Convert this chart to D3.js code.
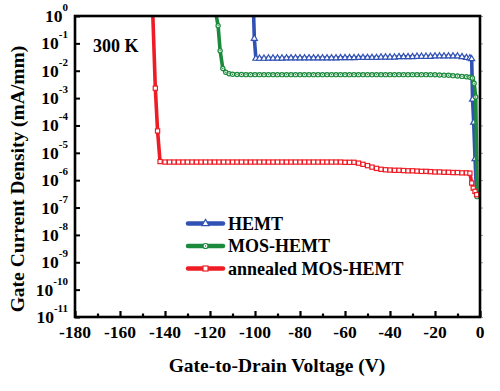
<!DOCTYPE html>
<html><head><meta charset="utf-8">
<script src="https://cdn.jsdelivr.net/npm/d3@7"></script>
<style>html,body{margin:0;padding:0;background:#fff;}svg{display:block;}
svg text{font-family:"Liberation Serif","Times New Roman",serif;font-weight:bold;}</style>
</head><body>
<script>
// ---- data ----
const xTicks = [-180,-160,-140,-120,-100,-80,-60,-40,-20,0];
const yTickExps = [0,-1,-2,-3,-4,-5,-6,-7,-8,-9,-10,-11];
const seriesNames = ["HEMT","MOS-HEMT","annealed MOS-HEMT"];

const hemtV = [-100.6,-100.3,-99.6,
 -98,-96,-94,-92,-90,-88,-86,-84,-82,-80,-78,-76,-74,-72,-70,-68,-66,-64,-62,-60,-58,-56,-54,-52,-50,-48,-46,-44,-42,-40,-38,-36,-34,-32,-30,-28,-26,-24,-22,-20,-18,-16,-14,-12,-10,-8,-6,
 -4.5,-3.7,-3.3,-2.8,-2.2,-1.6];
const hemtI = [1,0.15,0.028,
 0.028,0.028,0.0285,0.0285,0.0285,0.0285,0.029,0.029,0.029,0.029,0.029,0.029,0.029,0.029,0.029,0.029,0.029,0.029,0.0295,0.0295,0.0295,0.0295,0.03,0.03,0.03,0.03,0.03,0.031,0.031,0.031,0.031,0.032,0.032,0.032,0.032,0.033,0.033,0.033,0.033,0.034,0.034,0.034,0.034,0.034,0.034,0.032,0.03,
 0.029,0.027,0.0009,0.00013,0.000006,0.0000004];

const mosV = [-117.2,-116.4,-115.5,-114.3,-113,-111.5,-110,
 -108,-106,-104,-102,-100,-98,-96,-94,-92,-90,-88,-86,-84,-82,-80,-78,-76,-74,-72,-70,-68,-66,-64,-62,-60,-58,-56,-54,-52,-50,-48,-46,-44,-42,-40,-38,-36,-34,-32,-30,-28,-26,-24,-22,-20,-18,-16,-14,-12,-10,-8,-6,
 -4.5,-3.4,-2.6,-1.9,-1.3];
const mosI = [1,0.44,0.054,0.012,0.0088,0.0078,0.0074,
 0.0073,0.0073,0.0072,0.0072,0.0072,0.0072,0.0072,0.0072,0.0072,0.0072,0.0072,0.0072,0.0072,0.0072,0.0072,0.0072,0.0072,0.0072,0.0072,0.0072,0.0072,0.0072,0.0072,0.0072,0.0072,0.0072,0.0072,0.0072,0.0072,0.0072,0.0072,0.0072,0.0072,0.0072,0.0072,0.0072,0.0072,0.0072,0.0072,0.0072,0.0072,0.0072,0.0072,0.0072,0.0071,0.007,0.0069,0.0068,0.0066,0.0064,0.0062,0.006,
 0.0058,0.0054,0.0035,0.0011,0.00000025];

const annV = [-145.4,-144.3,-143.3,-142.2,
 -140,-138,-136,-134,-132,-130,-128,-126,-124,-122,-120,-118,-116,-114,-112,-110,-108,-106,-104,-102,-100,-98,-96,-94,-92,-90,-88,-86,-84,-82,-80,-78,-76,-74,-72,-70,-68,-66,-64,-62,-60,-58,
 -56,-54,-52,-50,-48,-46,-44,-42,
 -40,-38,-36,-34,-32,-30,-28,-26,-24,-22,-20,-18,-16,-14,-12,-10,-8,-6,
 -4.5,-3.7,-3.0,-2.2,-1.5];
const annI = [1,2.3e-3,6.3e-5,4.8e-6,
 4.6e-6,4.6e-6,4.6e-6,4.6e-6,4.6e-6,4.6e-6,4.6e-6,4.6e-6,4.6e-6,4.6e-6,4.6e-6,4.6e-6,4.6e-6,4.6e-6,4.6e-6,4.6e-6,4.6e-6,4.6e-6,4.6e-6,4.6e-6,4.6e-6,4.6e-6,4.6e-6,4.6e-6,4.6e-6,4.6e-6,4.6e-6,4.6e-6,4.6e-6,4.6e-6,4.6e-6,4.6e-6,4.6e-6,4.6e-6,4.6e-6,4.6e-6,4.6e-6,4.6e-6,4.6e-6,4.6e-6,4.5e-6,4.5e-6,
 4.5e-6,4.2e-6,3.8e-6,3.4e-6,3.0e-6,2.7e-6,2.5e-6,2.4e-6,
 2.35e-6,2.3e-6,2.3e-6,2.25e-6,2.2e-6,2.2e-6,2.15e-6,2.1e-6,2.1e-6,2.05e-6,2.0e-6,2.0e-6,1.95e-6,1.95e-6,1.9e-6,1.9e-6,1.85e-6,1.85e-6,
 1.8e-6,7.9e-7,5.1e-7,3.9e-7,2.95e-7];

// ---- layout ----
const W = 500, H = 391;
const L = 75, R = 480, T = 16, B = 317;
const colors = ["#3152b4","#1b8a3c","#ee1d25"];

const svg = d3.select("body").append("svg").attr("width",W).attr("height",H);

const x = d3.scaleLinear().domain([-180,0]).range([L,R]);
const y = d3.scaleLog().domain([1e-11,1]).range([B,T]);

svg.append("defs").append("clipPath").attr("id","clip")
  .append("rect").attr("x",L).attr("y",T).attr("width",R-L).attr("height",B-T);

const xAxisMajor = d3.axisBottom(x).tickValues(xTicks).tickSize(-6).tickFormat("");
const xAxisMinor = d3.axisBottom(x).tickValues(d3.range(-170,0,20)).tickSize(-3.5).tickFormat("");
const gx = svg.append("g").attr("transform",`translate(0,${B})`).call(xAxisMajor);
const gx2 = svg.append("g").attr("transform",`translate(0,${B})`).call(xAxisMinor);
[gx,gx2].forEach(g=>{g.select(".domain").remove();g.selectAll("line").attr("stroke","#000").attr("stroke-width",2.2);});

const yAxis = d3.axisLeft(y).tickValues(yTickExps.map(e=>Math.pow(10,e))).tickSize(-5).tickFormat("");
const gy = svg.append("g").attr("transform",`translate(${L},0)`).call(yAxis);
gy.select(".domain").remove();
gy.selectAll("line").attr("stroke","#000").attr("stroke-width",2);

const yAxisR = d3.axisRight(y).tickValues(yTickExps.map(e=>Math.pow(10,e))).tickSize(3).tickFormat("");
const gyr = svg.append("g").attr("transform",`translate(${R},0)`).call(yAxisR);
gyr.select(".domain").remove();
gyr.selectAll("line").attr("stroke","#999").attr("stroke-width",1);

svg.append("g").selectAll("text").data(xTicks).join("text")
  .attr("x",d=>x(d)).attr("y",B+21).attr("text-anchor","middle")
  .attr("font-size",17.5).text(d=>d===0?"0":String(d));

const yl = svg.append("g").selectAll("text").data(yTickExps).join("text")
  .attr("x",68).attr("y",d=>y(Math.pow(10,d))+6).attr("text-anchor","end").attr("font-size",17.5);
yl.append("tspan").text("10");
yl.append("tspan").attr("font-size",11).attr("dy",-11).text(d=>String(d));

const series = [
  {name:seriesNames[0], V:hemtV, I:hemtI, color:colors[0], mark:"tri"},
  {name:seriesNames[1], V:mosV, I:mosI, color:colors[1], mark:"circ"},
  {name:seriesNames[2], V:annV, I:annI, color:colors[2], mark:"sq"}
];
const line = d3.line().x(d=>x(d[0])).y(d=>y(d[1]));
const plot = svg.append("g").attr("clip-path","url(#clip)");

function drawMarker(g, type, color, cx, cy, s){
  if(type==="tri"){
    g.append("path").attr("d",d3.symbol(d3.symbolTriangle, s*s*0.9)())
      .attr("transform",`translate(${cx},${cy})`)
      .attr("fill","#fff").attr("stroke",color).attr("stroke-width",1.2);
  } else if(type==="circ"){
    g.append("circle").attr("cx",cx).attr("cy",cy).attr("r",s/2)
      .attr("fill","#fff").attr("stroke",color).attr("stroke-width",1.2);
    g.append("circle").attr("cx",cx).attr("cy",cy).attr("r",0.7).attr("fill",color);
  } else {
    g.append("rect").attr("x",cx-s/2).attr("y",cy-s/2).attr("width",s).attr("height",s)
      .attr("fill","#fff").attr("stroke",color).attr("stroke-width",1.2);
  }
}

series.forEach(s=>{
  const pts = s.V.map((v,i)=>[v,s.I[i]]);
  plot.append("path").datum(pts).attr("d",line).attr("fill","none")
    .attr("stroke",s.color).attr("stroke-width",3.6).attr("stroke-linejoin","round");
  const mg = plot.append("g");
  pts.forEach(p=>{ if(p[1]<0.9) drawMarker(mg,s.mark,s.color,x(p[0]),y(p[1]),4.2); });
});

svg.append("rect").attr("x",L).attr("y",T).attr("width",R-L).attr("height",B-T)
  .attr("fill","none").attr("stroke","#000").attr("stroke-width",2.6);

svg.append("text").attr("x",93).attr("y",52).attr("font-size",18).text("300 K");

const legY = [223.5,246,268.5];
series.forEach((s,i)=>{
  const g = svg.append("g");
  g.append("line").attr("x1",188).attr("x2",223).attr("y1",legY[i]).attr("y2",legY[i])
    .attr("stroke",s.color).attr("stroke-width",4.5).attr("stroke-linecap","round");
  drawMarker(g,s.mark,s.color,205.5,legY[i],5);
  g.append("text").attr("x",228).attr("y",legY[i]+6).attr("font-size",18).text(s.name);
});

svg.append("text").attr("x",277).attr("y",372).attr("text-anchor","middle")
  .attr("font-size",19.5).text("Gate-to-Drain Voltage (V)");
svg.append("text").attr("transform",`translate(24,179) rotate(-90)`).attr("text-anchor","middle")
  .attr("font-size",19.5).text("Gate Current Density (mA/mm)");
</script>
</body></html>
